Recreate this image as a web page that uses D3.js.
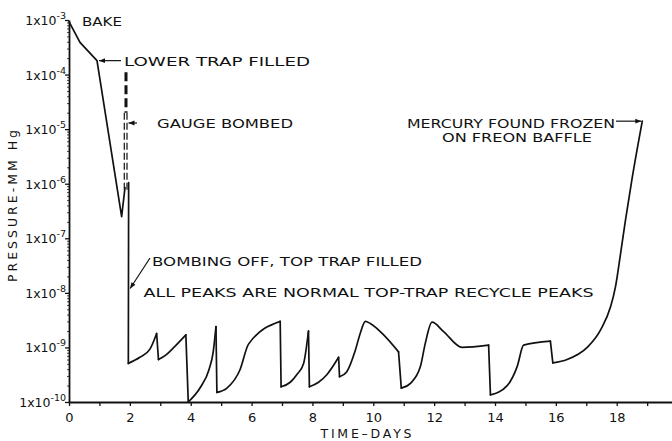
<!DOCTYPE html>
<html>
<head>
<meta charset="utf-8">
<script src="https://cdn.jsdelivr.net/npm/d3@7"></script>
<style>
  body { margin: 0; background: #fff; }
  text { font-family: "DejaVu Sans", sans-serif; fill: #111; }
</style>
</head>
<body>
<svg id="chart" width="672" height="441"></svg>
<script>
// Axis values
let dayTicks = d3.range(0, 20);
let dayLabels = [0, 2, 4, 6, 8, 10, 12, 14, 16, 18];
let decadeExps = [-10, -9, -8, -7, -6, -5, -4, -3];

// Pressure trace, [day, mm Hg]
let bakePhase = [[0, 9.3e-4], [0.36, 3.9e-4], [0.92, 1.8e-4], [1.73, 2.5e-7], [1.84, 8.5e-7]];
let bombedThick = [[1.873, 1.1e-4], [1.873, 2.0e-5]];
let bombedThinA = [[1.817, 2.0e-5], [1.817, 7.7e-7]];
let bombedThinB = [[1.906, 2.0e-5], [1.906, 7.7e-7]];
let bombingOff = [1.96, 1.05e-6];
let bombingOffMark = [1.96, 1.2e-8];

// Top-trap recycle cycles (trough -> peak)
let cycles = [
    [[1.95, 5.1e-10], [2.33, 6.6e-10], [2.66, 9.3e-10], [2.88, 1.8e-9]],
    [[2.94, 6.0e-10], [3.2, 7.4e-10], [3.43, 9.8e-10], [3.84, 1.7e-9]],
    [[3.92, 1.0e-10], [4.33, 1.9e-10], [4.6, 3.9e-10], [4.74, 8.3e-10], [4.83, 2.4e-9]],
    [[4.86, 1.5e-10], [5.19, 1.8e-10], [5.62, 3.9e-10], [5.9, 1.15e-9], [6.94, 3.0e-9]],
    [[6.97, 1.9e-10], [7.27, 2.3e-10], [7.49, 3.2e-10], [7.71, 5.1e-10], [7.87, 2.0e-9]],
    [[7.9, 1.9e-10], [8.2, 2.3e-10], [8.48, 3.2e-10], [8.86, 6.6e-10]],
    [[8.89, 2.9e-10], [9.13, 3.6e-10], [9.41, 8.9e-10], [9.57, 1.8e-9], [9.74, 3.0e-9], [9.9, 2.75e-9], [10.34, 1.7e-9], [10.83, 8.3e-10]],
    [[10.92, 1.8e-10], [11.22, 2.2e-10], [11.55, 4.5e-10], [11.71, 1.2e-9], [11.93, 2.9e-9], [12.31, 1.95e-9], [12.92, 1.0e-9], [13.79, 1.1e-9]],
    [[13.85, 1.35e-10], [14.4, 2.0e-10], [14.73, 4.5e-10], [14.94, 1.1e-9], [15.82, 1.3e-9]],
    [[15.9, 5.2e-10], [16.37, 6.0e-10], [17.03, 1.0e-9], [17.47, 2.1e-9], [17.8, 5.6e-9], [17.96, 1.3e-8], [18.13, 5.4e-8], [18.29, 2.2e-7], [18.5, 1.2e-6], [18.84, 1.4e-5]]
];

// Annotation texts
let noteBake = 'BAKE';
let noteLowerTrap = 'LOWER TRAP FILLED';
let noteGauge = 'GAUGE BOMBED';
let noteBombingOff = 'BOMBING OFF, TOP TRAP FILLED';
let notePeaks = 'ALL PEAKS ARE NORMAL TOP-TRAP RECYCLE PEAKS';
let noteMercury = ['MERCURY FOUND FROZEN', 'ON FREON BAFFLE'];

let svg = d3.select('#chart');
let ink = '#111';

let x = d3.scaleLinear().domain([0, 19.8]).range([69, 671.5]);
let y = d3.scaleLog().domain([1e-10, 1e-3]).range([402, 20]);

// X axis
let xAxis = svg.append('g')
    .attr('transform', 'translate(0,' + y(1e-10) + ')')
    .call(d3.axisBottom(x)
        .tickValues(dayTicks)
        .tickSize(4)
        .tickSizeOuter(0)
        .tickPadding(6.5)
        .tickFormat((d) => dayLabels.includes(d) ? d : ''));
xAxis.select('.domain').attr('stroke', ink).attr('stroke-width', 1.8);
xAxis.selectAll('.tick line').attr('stroke', ink).attr('stroke-width', 1.3);
xAxis.selectAll('.tick text')
    .style('font-family', '"DejaVu Sans", sans-serif')
    .style('font-size', '13px')
    .attr('fill', ink);

// Y axis, decades + minor ticks
let decades = decadeExps.map((e) => Math.pow(10, e));
let minors = [];
decades.slice(0, -1).forEach((d) => {
    for (let k = 2; k <= 9; k++) minors.push(k * d);
});

let yAxis = svg.append('g')
    .attr('transform', 'translate(' + x(0) + ',0)')
    .call(d3.axisLeft(y).tickValues(decades).tickSize(4).tickSizeOuter(0).tickFormat(''));
yAxis.select('.domain').attr('stroke', ink).attr('stroke-width', 1.8);
yAxis.selectAll('.tick line').attr('stroke', ink).attr('stroke-width', 1.3);

let yMinor = svg.append('g')
    .attr('transform', 'translate(' + x(0) + ',0)')
    .call(d3.axisLeft(y).tickValues(minors).tickSize(2).tickFormat(''));
yMinor.select('.domain').remove();
yMinor.selectAll('.tick line').attr('stroke', ink).attr('stroke-width', 0.8);

// Decade labels: 1x10^n
let yLabels = svg.append('g').selectAll('text')
    .data(decadeExps)
    .enter()
    .append('text')
    .attr('x', x(0) - 3)
    .attr('y', (e) => y(Math.pow(10, e)) + 5)
    .attr('text-anchor', 'end')
    .style('font-size', '12.5px');
yLabels.append('tspan').text('1x10');
yLabels.append('tspan')
    .attr('dy', -6)
    .style('font-size', '9.5px')
    .text((e) => '-' + Math.abs(e));

// Axis titles
svg.append('text')
    .attr('x', 366)
    .attr('y', 438)
    .attr('text-anchor', 'middle')
    .attr('textLength', 91)
    .style('font-size', '12.5px')
    .text('TIME–DAYS');

svg.append('text')
    .attr('transform', 'translate(17,206) rotate(-90)')
    .attr('text-anchor', 'middle')
    .attr('textLength', 152)
    .style('font-size', '12.5px')
    .text('PRESSURE-MM Hg');

// Pressure trace
let straight = d3.line().x((d) => x(d[0])).y((d) => y(d[1]));
let smooth = d3.line().x((d) => x(d[0])).y((d) => y(d[1])).curve(d3.curveMonotoneX);

let traceStyle = (sel, w) => sel
    .attr('fill', 'none')
    .attr('stroke', ink)
    .attr('stroke-width', w)
    .attr('stroke-linejoin', 'round')
    .attr('stroke-linecap', 'round');

svg.append('path').attr('d', straight(bakePhase)).call(traceStyle, 1.7);

svg.append('path').attr('d', straight(bombedThick)).call(traceStyle, 3)
    .attr('stroke-linecap', 'butt')
    .attr('stroke-dasharray', '9,4');
[bombedThinA, bombedThinB].forEach((seg) => {
    svg.append('path').attr('d', straight(seg)).call(traceStyle, 1.2)
        .attr('stroke-linecap', 'butt')
        .attr('stroke-dasharray', '7,3');
});

// Drops between cycles
let drops = [[bombingOff, cycles[0][0]]];
for (let i = 1; i < cycles.length; i++) {
    drops.push([cycles[i - 1][cycles[i - 1].length - 1], cycles[i][0]]);
}
drops.forEach((seg) => svg.append('path').attr('d', straight(seg)).call(traceStyle, 1.7));
cycles.forEach((c) => svg.append('path').attr('d', smooth(c)).call(traceStyle, 1.7));

// Annotations
let arrow = (x1, y1, x2, y2) => {
    svg.append('line')
        .attr('x1', x1).attr('y1', y1).attr('x2', x2).attr('y2', y2)
        .attr('stroke', ink).attr('stroke-width', 1.2);
    let a = Math.atan2(y2 - y1, x2 - x1);
    let L = 6, W = 2.4;
    let p = [
        [x2, y2],
        [x2 - L * Math.cos(a) + W * Math.sin(a), y2 - L * Math.sin(a) - W * Math.cos(a)],
        [x2 - L * Math.cos(a) - W * Math.sin(a), y2 - L * Math.sin(a) + W * Math.cos(a)]
    ];
    svg.append('path').attr('d', 'M' + p.join('L') + 'Z').attr('fill', ink);
};

let note = (tx, ty, str, len) => svg.append('text')
    .attr('x', tx).attr('y', ty)
    .attr('textLength', len)
    .attr('lengthAdjust', 'spacingAndGlyphs')
    .style('font-size', '12.5px')
    .text(str);

note(82, 26, noteBake, 40);

let lt = bakePhase[2];
arrow(x(lt[0]) + 24, y(lt[1]), x(lt[0]) + 2, y(lt[1]));
note(124, 65.7, noteLowerTrap, 186);

arrow(137, 123, x(bombedThinB[0][0]) + 1.5, 123);
note(157, 128, noteGauge, 136);

arrow(150, 258, x(bombingOffMark[0]) + 1.5, y(bombingOffMark[1]));
note(152, 265.5, noteBombingOff, 270);
note(143.5, 297, notePeaks, 450);

let lastCycle = cycles[cycles.length - 1];
let endPoint = lastCycle[lastCycle.length - 1];
arrow(616, y(endPoint[1]), x(endPoint[0]) - 1, y(endPoint[1]));
note(407, 128, noteMercury[0], 208);
note(442, 141.5, noteMercury[1], 150);
</script>
</body>
</html>
